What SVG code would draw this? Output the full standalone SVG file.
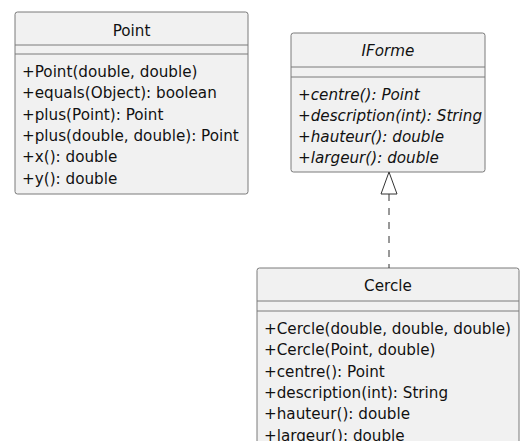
<svg xmlns="http://www.w3.org/2000/svg" width="520" height="441" viewBox="0 0 520 441">
  <style>
    .box { fill: #F1F1F1; stroke: #7A7A7A; stroke-width: 1; }
    .sep { stroke: #7A7A7A; stroke-width: 1; }
    text { font-family: "DejaVu Sans", "Liberation Sans", sans-serif; font-size: 15.2px; fill: #111111; }
    .title { text-anchor: middle; }
    .abstract { font-style: italic; }
    .edge { fill: none; stroke: #333333; stroke-width: 1; }
  </style>

  <!-- class Point -->
  <g id="Point">
    <rect class="box" x="15" y="12" width="233" height="182" rx="2.5" ry="2.5"/>
    <line class="sep" x1="15" y1="45" x2="248" y2="45"/>
    <line class="sep" x1="15" y1="54" x2="248" y2="54"/>
    <text class="title" x="131.5" y="36">Point</text>
    <text x="22" y="77">+Point(double, double)</text>
    <text x="22" y="98.3">+equals(Object): boolean</text>
    <text x="22" y="119.6">+plus(Point): Point</text>
    <text x="22" y="140.9">+plus(double, double): Point</text>
    <text x="22" y="162.2">+x(): double</text>
    <text x="22" y="183.5">+y(): double</text>
  </g>

  <!-- interface IForme -->
  <g id="IForme">
    <rect class="box" x="291" y="33" width="194" height="139" rx="2.5" ry="2.5"/>
    <line class="sep" x1="291" y1="67" x2="485" y2="67"/>
    <line class="sep" x1="291" y1="77" x2="485" y2="77"/>
    <text class="title abstract" x="388" y="56">IForme</text>
    <text class="abstract" x="298" y="99.5">+centre(): Point</text>
    <text class="abstract" x="298" y="120.8">+description(int): String</text>
    <text class="abstract" x="298" y="142.1">+hauteur(): double</text>
    <text class="abstract" x="298" y="163.4">+largeur(): double</text>
  </g>

  <!-- class Cercle -->
  <g id="Cercle">
    <rect class="box" x="257" y="268" width="262" height="190" rx="2.5" ry="2.5"/>
    <line class="sep" x1="257" y1="301" x2="519" y2="301"/>
    <line class="sep" x1="257" y1="311" x2="519" y2="311"/>
    <text class="title" x="388" y="290.5">Cercle</text>
    <text x="264" y="334">+Cercle(double, double, double)</text>
    <text x="264" y="355.3">+Cercle(Point, double)</text>
    <text x="264" y="376.6">+centre(): Point</text>
    <text x="264" y="397.9">+description(int): String</text>
    <text x="264" y="419.2">+hauteur(): double</text>
    <text x="264" y="440.5">+largeur(): double</text>
  </g>

  <!-- Cercle realizes IForme -->
  <g id="connectors">
    <line class="edge" x1="389" y1="194" x2="389" y2="268" stroke-dasharray="7,7"/>
    <polygon points="389,172 381,194 397,194" fill="#FFFFFF" stroke="#333333" stroke-width="1"/>
  </g>
</svg>
